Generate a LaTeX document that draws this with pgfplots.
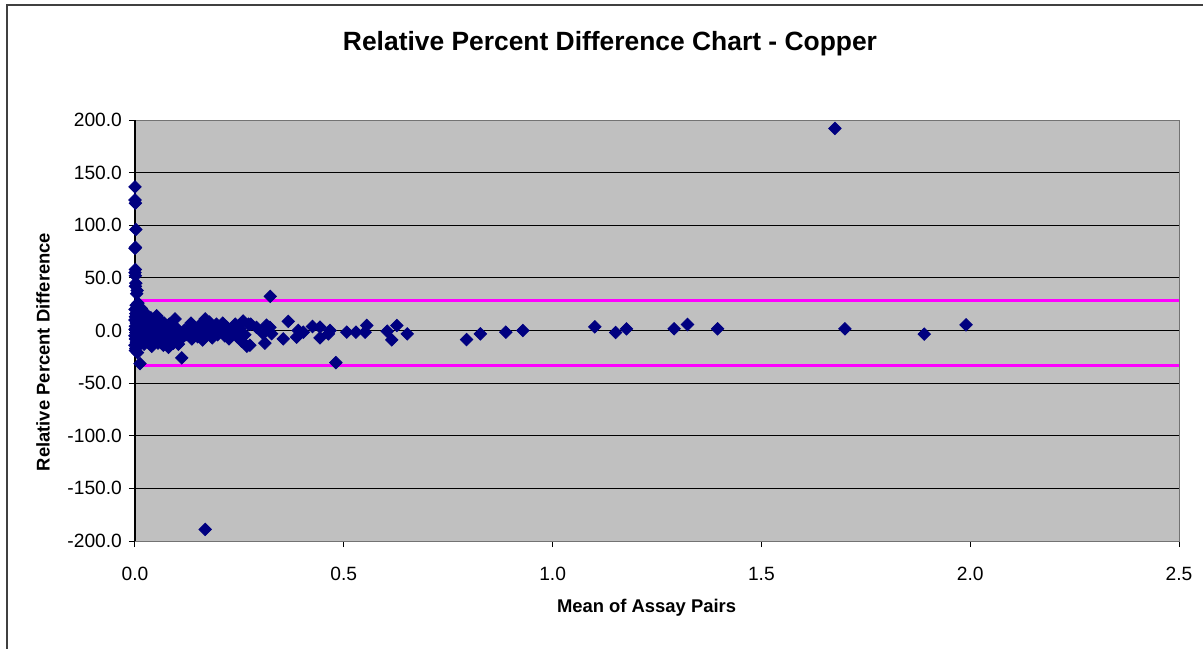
\documentclass[border=0pt]{standalone}
\usepackage{pgfplots}
\pgfplotsset{compat=1.18}
\usepackage{fontspec}
\setmainfont{Liberation Sans}

\definecolor{plotgray}{HTML}{C0C0C0}
\definecolor{navy}{HTML}{000080}
\definecolor{limitpink}{HTML}{FF00FF}

\begin{document}
\begin{tikzpicture}[x=1pt,y=1pt]
\path[use as bounding box] (-67.5,-53.5) rectangle (534,270.5);
\draw[line width=0.7pt, black!75] (-64,-60) -- (-64,268) -- (540,268);
\node[font=\fontsize{13.2}{15}\selectfont\bfseries] at (237.5,248.5) {Relative Percent Difference Chart - Copper};
\begin{axis}[
    at={(0,0)}, anchor=south west,
    scale only axis, width=522pt, height=210.5pt,
    xmin=0, xmax=2.5, ymin=-200, ymax=200,
    xtick={0,0.5,...,2.5}, ytick={-200,-150,...,200},
    axis background/.style={fill=plotgray},
    axis line style={black!55},
    ymajorgrids, grid style={black, line width=0.5pt},
    tick align=outside, major tick length=3pt,
    tick style={black, line width=0.5pt},
    xtick pos=bottom, ytick pos=left,
    /pgf/number format/assume math mode=true,
    xticklabel={\pgfmathprintnumber[fixed,fixed zerofill,precision=1]{\tick}},
    yticklabel={\pgfmathprintnumber[fixed,fixed zerofill,precision=1]{\tick}},
    tick label style={font=\fontsize{9.6}{11}\selectfont},
    xticklabel style={yshift=-6.5pt},
    xlabel={Mean of Assay Pairs},
    ylabel={Relative Percent Difference},
    label style={font=\fontsize{9.2}{11}\selectfont\bfseries},
    xlabel style={at={(axis description cs:0.49,-0.159)}, anchor=center},
    ylabel style={at={(axis description cs:-0.088,0.449)}, anchor=center, rotate=0},
    clip=false,
]
% control limits
\addplot[limitpink, line width=1.5pt] coordinates {(0.007,28.6) (2.5,28.6)};
\addplot[limitpink, line width=1.5pt] coordinates {(0.007,-33.6) (2.5,-33.6)};
% assay pairs
\addplot[only marks, mark=square*, mark size=2.2pt,
    mark options={rotate=45, fill=navy, draw=navy}] coordinates {
(0.000,136.5)(0.000,124)(0.001,121)(0.002,96)(0.001,79)(0.000,78)(0.001,58)
(0.000,55)(0.001,52)(0.002,45)(0.001,42)(0.005,38)(0.004,35)(0.007,26)
(0.003,24)(0.000,20)(0.002,16)(0.001,13)(0.000,10)(0.003,7)(0.001,4)
(0.000,1)(0.002,-2)(0.000,-5)(0.001,-8)(0.003,-11)(0.000,-14)(0.002,-17)
(0.001,-19)(0.012,-31.5)(0.006,-21)(0.004,8)(0.006,-4)(0.008,12)(0.009,3)
(0.010,-9)(0.011,17)(0.013,0)
(0.015,21)(0.018,-6)(0.020,9)(0.022,-13)(0.025,4)(0.028,15)(0.030,-2)
(0.032,-10)(0.035,6)(0.038,12)(0.040,-15)(0.042,1)(0.045,-7)(0.048,8)
(0.050,-3)(0.052,14)(0.055,-12)(0.058,4)(0.060,10)(0.062,-6)(0.065,0)
(0.068,-14)(0.070,7)(0.072,-9)(0.075,3)(0.078,-3)(0.080,-16)(0.082,6)
(0.085,-1)(0.088,-8)(0.090,4)(0.092,-12)(0.096,11)(0.098,-5)(0.100,2)
(0.104,-13)(0.108,-3)(0.112,-26)(0.115,-6)(0.118,0)(0.122,-4)(0.126,-1)
(0.130,3)(0.134,7)(0.136,-8)(0.140,-3)(0.145,2)(0.150,-6)(0.155,5)
(0.158,-2)(0.162,-9)(0.165,1)(0.168,11)(0.170,-5)(0.175,4)(0.178,8)
(0.180,-2)(0.185,-7)(0.190,3)(0.195,6)(0.198,-4)(0.202,0)(0.207,-1)
(0.210,7)(0.215,-5)(0.220,3)(0.225,-8)(0.230,1)(0.235,-3)(0.240,6)
(0.245,-6)(0.250,2)(0.255,-10)(0.259,9)(0.263,-4)(0.268,-15)(0.272,6)
(0.275,-14)(0.277,6)(0.291,3)(0.307,-3)(0.311,-12)(0.315,5)(0.323,3)
(0.324,32.4)(0.327,-3)(0.355,-8)(0.367,8.6)(0.387,-6.3)(0.391,0)
(0.403,-1.6)(0.425,3.8)(0.443,3.2)(0.443,-7)(0.463,-3.2)(0.467,0)
(0.481,-30.5)(0.507,-1.6)(0.529,-1.6)(0.551,-1.6)(0.555,4.8)(0.604,-0.7)
(0.615,-8.9)(0.627,4.8)(0.652,-3.2)(0.794,-8.6)(0.827,-3.2)(0.888,-1.6)
(0.929,0)(1.101,3.5)(1.151,-1.9)(1.177,1.6)(1.291,1.6)(1.323,5.7)
(1.395,1.6)(1.676,192)(1.700,1.6)(1.890,-3.5)(1.990,5.4)(0.168,-189)
};
\draw[black, line width=0.6pt] (axis cs:0,-200) -- (axis cs:0,200);
\end{axis}
\end{tikzpicture}
\end{document}
